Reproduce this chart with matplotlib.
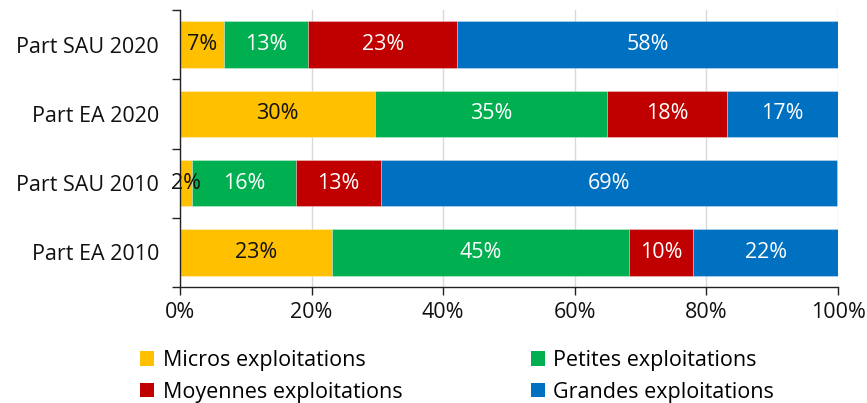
import numpy as np
import matplotlib.pyplot as plt
from matplotlib.patches import Patch

plt.rcParams['font.family'] = ['Open Sans', 'DejaVu Sans']

categories = ["Part SAU 2020", "Part EA 2020", "Part SAU 2010", "Part EA 2010"]
series_names = ["Micros exploitations", "Petites exploitations",
                "Moyennes exploitations", "Grandes exploitations"]
micros = [6.7, 29.6, 1.9, 23.1]
petites = [12.8, 35.3, 15.7, 45.1]
moyennes = [22.6, 18.2, 12.9, 9.8]
grandes = [57.9, 16.9, 69.4, 22.0]
colors = ["#FFC000", "#00B050", "#C00000", "#0070C0"]
text_colors = ["#111111", "white", "white", "white"]

FS = 15.5

fig = plt.figure(figsize=(8.67, 4.03), dpi=100)
ax = fig.add_axes([0.2076, 0.288, 0.759, 0.687])

y = np.arange(len(categories))
left = np.zeros(len(categories))
for name, vals, col, tcol in zip(series_names, [micros, petites, moyennes, grandes], colors, text_colors):
    vals = np.array(vals)
    ax.barh(y, vals, left=left, height=0.67, color=col, edgecolor=(1, 1, 1, 0.35),
            linewidth=0.6, zorder=2, label=name)
    for yi, l, v in zip(y, left, vals):
        ax.text(l + v / 2, yi, f"{round(v):.0f}%", ha="center", va="center",
                color=tcol, fontsize=FS, zorder=3)
    left += vals

ax.set_xlim(0, 100)
ax.set_ylim(len(categories) - 0.5, -0.5)
ax.set_yticks(y)
ax.set_yticklabels(categories, fontsize=FS, color="#111111")
ax.set_yticks(np.arange(-0.5, len(categories)), minor=True)
ax.tick_params(axis="y", which="major", length=0, pad=15)
ax.tick_params(axis="y", which="minor", length=6, width=1, color="#222222")
ax.set_xticks(np.arange(0, 101, 20))
ax.set_xticklabels([f"{v}%" for v in range(0, 101, 20)], fontsize=FS, color="#111111")
ax.tick_params(axis="x", length=6, width=1, color="#222222", pad=5)
ax.grid(axis="x", color="#d9d9d9", linewidth=1, zorder=0)
for s in ["top", "right"]:
    ax.spines[s].set_visible(False)
for s in ["left", "bottom"]:
    ax.spines[s].set_color("#222222")
    ax.spines[s].set_linewidth(1)

# legend fills column by column: reorder so rows read Micros/Petites, Moyennes/Grandes
order = [0, 2, 1, 3]
handles = [Patch(facecolor=colors[i], edgecolor="none") for i in order]
labels = [series_names[i] for i in order]
fig.legend(handles, labels, ncol=2, loc="upper left",
           bbox_to_anchor=(0.152, 0.153), frameon=False, fontsize=FS,
           handlelength=0.65, handleheight=0.65, handletextpad=0.4,
           columnspacing=5.95, labelspacing=0.5, borderaxespad=0)

fig.savefig("out.png", dpi=100)
